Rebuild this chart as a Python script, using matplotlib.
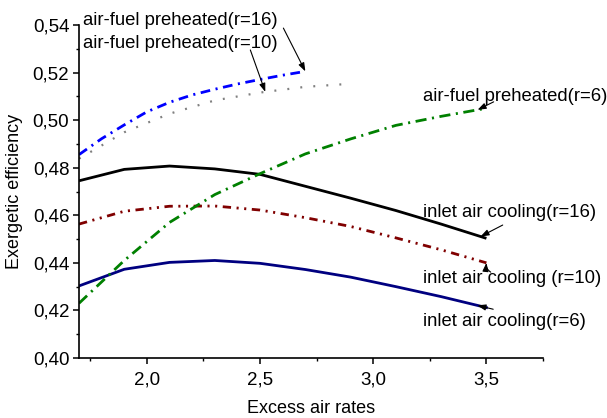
import numpy as np
import matplotlib
matplotlib.use("Agg")
import matplotlib.pyplot as plt
from matplotlib.ticker import FuncFormatter, MultipleLocator

# ---- data ----
x_cool = [1.7, 1.9, 2.1, 2.3, 2.5, 2.7, 2.9, 3.1, 3.3, 3.5]
cool16 = [0.4745, 0.4793, 0.4807, 0.4795, 0.4772, 0.4722, 0.4672, 0.4620, 0.4563, 0.4503]
cool10 = [0.4563, 0.4617, 0.4638, 0.4639, 0.4622, 0.4590, 0.4553, 0.4505, 0.4455, 0.4400]
cool6 = [0.4303, 0.4373, 0.4402, 0.4410, 0.4398, 0.4372, 0.4340, 0.4300, 0.4258, 0.4212]

x_pre6 = [1.7, 1.9, 2.1, 2.3, 2.5, 2.7, 2.9, 3.1, 3.3, 3.5]
pre6 = [0.4230, 0.4410, 0.4570, 0.4687, 0.4775, 0.4858, 0.4921, 0.4978, 0.5016, 0.5050]
x_pre16 = [1.7, 1.8, 1.9, 2.0, 2.1, 2.2, 2.3, 2.4, 2.5, 2.6, 2.7]
pre16 = [0.4855, 0.4922, 0.4980, 0.5035, 0.5075, 0.5106, 0.5130, 0.5152, 0.5171, 0.5189, 0.5205]
x_pre10 = [1.7, 1.9, 2.1, 2.3, 2.5, 2.7, 2.9]
pre10 = [0.4838, 0.4949, 0.5027, 0.5083, 0.5116, 0.5140, 0.5153]

xticks = [2.0, 2.5, 3.0, 3.5]
yticks = [0.40, 0.42, 0.44, 0.46, 0.48, 0.50, 0.52, 0.54]

plt.rcParams['font.family'] = ['Liberation Sans', 'DejaVu Sans']
plt.rcParams['lines.scale_dashes'] = False

fig = plt.figure(figsize=(6.07, 4.18), dpi=100)
ax = fig.add_axes([79/607, 60/418, (543-79)/607, (358-25)/418])

ax.plot(x_cool, cool16, color='black', lw=2.0, solid_capstyle='butt')
ax.plot(x_cool, cool10, color='#800000', lw=2.0, dashes=(6, 4, 1.5, 4, 1.5, 4))
ax.plot(x_cool, cool6, color='#000080', lw=2.0)
ax.plot(x_pre6, pre6, color='#008000', lw=2.0, dashes=(8, 4, 1.5, 4))
ax.plot(x_pre16, pre16, color='#0000FF', lw=2.0, dashes=(7, 4, 1.5, 4))
ax.plot(x_pre10, pre10, color='#808080', lw=1.6, dashes=(1.4, 8))

ax.set_xlim(1.7, 3.75)
ax.set_ylim(0.40, 0.54)
ax.spines['top'].set_visible(False)
ax.spines['right'].set_visible(False)
for s in ('left', 'bottom'):
    ax.spines[s].set_linewidth(1.2)

ax.set_xticks(xticks)
ax.set_yticks(yticks)
ax.xaxis.set_minor_locator(MultipleLocator(0.25))
ax.yaxis.set_minor_locator(MultipleLocator(0.01))
ax.xaxis.set_major_formatter(FuncFormatter(lambda v, p: f"{v:.1f}".replace('.', ',')))
ax.yaxis.set_major_formatter(FuncFormatter(lambda v, p: f"{v:.2f}".replace('.', ',')))
ax.tick_params(which='major', direction='out', length=4, width=1.1, labelsize=13.5)
ax.tick_params(which='minor', direction='out', length=2.2, width=1.0)
ax.tick_params(axis='x', which='major', pad=6)
ax.tick_params(axis='y', which='major', pad=3)

ax.set_xlabel('Excess air rates', fontsize=13, labelpad=8)
ax.set_ylabel('Exergetic efficiency', fontsize=13, labelpad=7)

FS = 13.3

def arrow(xy, xyt, rad=0.0):
    ax.annotate('', xy=xy, xytext=xyt, annotation_clip=False,
                arrowprops=dict(arrowstyle='-|>,head_length=0.5,head_width=0.18',
                                color='black', lw=0.8, shrinkA=0, shrinkB=0,
                                connectionstyle=f'arc3,rad={rad}'))

ax.text(1.7177, 0.5417, 'air-fuel preheated(r=16)', fontsize=FS, ha='left', va='center', clip_on=False)
arrow((x_pre16[-1], pre16[-1]), (2.603, 0.5387))
ax.text(1.7177, 0.5324, 'air-fuel preheated(r=10)', fontsize=FS, ha='left', va='center', clip_on=False)
arrow((2.523, np.interp(2.523, x_pre10, pre10)), (2.457, 0.5295))
ax.text(3.222, 0.5098, 'air-fuel preheated(r=6)', fontsize=FS, ha='left', va='center', clip_on=False)
arrow((3.461, np.interp(3.461, x_pre6, pre6)), (3.532, 0.5077))
ax.text(3.222, 0.4610, 'inlet air cooling(r=16)', fontsize=FS, ha='left', va='center', clip_on=False)
arrow((3.474, np.interp(3.474, x_cool, cool16)), (3.572, 0.4559))
ax.text(3.222, 0.4336, 'inlet air cooling (r=10)', fontsize=FS, ha='left', va='center', clip_on=False)
arrow((x_cool[-1], cool10[-1]), (3.519, 0.4361), rad=-0.3)
ax.text(3.222, 0.4153, 'inlet air cooling(r=6)', fontsize=FS, ha='left', va='center', clip_on=False)
arrow((3.460, np.interp(3.460, x_cool, cool6)), (3.530, 0.4205))

fig.savefig('out.png', dpi=100)
